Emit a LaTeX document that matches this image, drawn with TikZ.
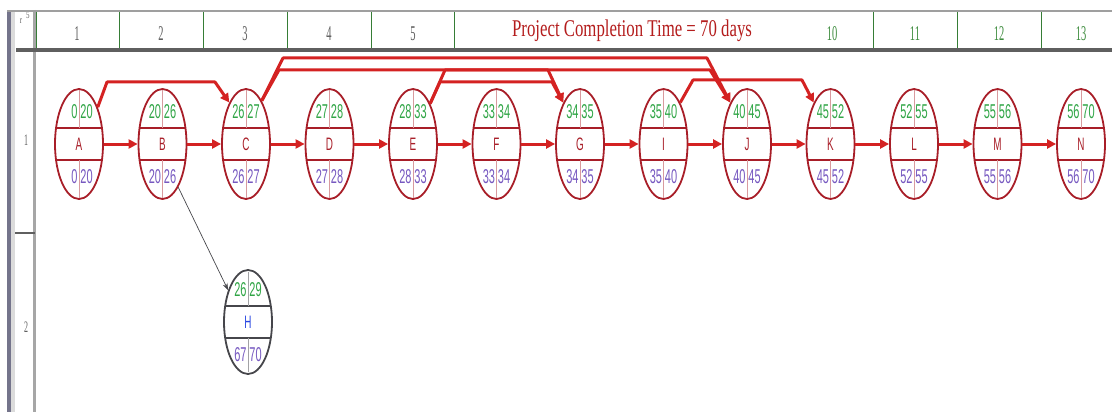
\documentclass[tikz,border=0pt]{standalone}
\usepackage{fontspec}
\setmainfont{Liberation Serif}
\newfontfamily\narrowsans[FakeStretch=0.55]{Liberation Sans}
\newfontfamily\narrowserif[FakeStretch=0.7]{Liberation Serif}
\newfontfamily\slimserif[FakeStretch=0.5]{Liberation Serif}
\usetikzlibrary{shapes.geometric, arrows.meta}

\definecolor{netred}{RGB}{212,34,34}
\definecolor{boxred}{RGB}{168,30,40}
\definecolor{esgreen}{RGB}{48,165,70}
\definecolor{lsviolet}{RGB}{118,88,192}
\definecolor{hgray}{RGB}{70,70,75}
\definecolor{hblue}{RGB}{40,70,225}
\definecolor{headgray}{RGB}{95,95,95}
\definecolor{colgreen}{RGB}{62,140,62}

\tikzset{
  actnode/.style={ellipse, draw=boxred, line width=1.8pt, minimum width=48pt,
    minimum height=110pt, inner sep=0pt, text=boxred,
    font=\narrowsans\fontsize{18}{18}\selectfont},
  esnum/.style={inner sep=1.2pt, text=esgreen, font=\narrowsans\fontsize{20}{20}\selectfont},
  lsnum/.style={inner sep=1.2pt, text=lsviolet, font=\narrowsans\fontsize{20}{20}\selectfont},
  bandline/.style={draw=boxred, line width=1.3pt},
  midline/.style={draw=boxred!45, line width=0.6pt},
  netarrow/.style={draw=netred, line width=3pt, line join=round,
    -{Triangle[length=9pt,width=9pt]}},
  thinarrow/.style={draw=hgray, line width=0.7pt, -{Stealth[length=7pt,width=5pt]}},
  colline/.style={draw=gray!60!green!70!black, line width=0.9pt},
  colnum/.style={font=\slimserif\fontsize{21}{21}\selectfont, inner sep=0pt},
}

\begin{document}
\begin{tikzpicture}[x=1pt, y=-1pt]
  \useasboundingbox (0,0) rectangle (1112,412);

  % left margin strips
  \fill[gray!55!blue!20!gray] (7,10) rectangle (11,412);
  \fill[gray!28] (11,10) rectangle (15,412);
  \draw[gray!70, line width=2.5pt] (34.5,10) -- (34.5,412);
  \draw[headgray, line width=1.5pt] (15,233) -- (35,233);
  \node[colnum, text=headgray, font=\slimserif\fontsize{16}{16}\selectfont] (row1) at (26,140) {1};
  \node[colnum, text=headgray, font=\slimserif\fontsize{16}{16}\selectfont] (row2) at (26,327) {2};
  \node[colnum, text=headgray, font=\narrowserif\fontsize{10}{10}\selectfont] (corner1) at (21,21) {r};
  \node[colnum, text=headgray, font=\narrowserif\fontsize{10}{10}\selectfont] (corner2) at (28,15) {5};

  % header strip
  \draw[gray!75, line width=2.5pt] (7,11) -- (1112,11);
  \draw[headgray, line width=4.5pt] (16,50) -- (1112,50);
  \foreach \xx in {36,119.75,203.5,287.25,371,454.75,873.5,957.25,1041}
    \draw[colline] (\xx,12) -- (\xx,48);
  \foreach \xx/\lab in {77/1,161/2,245/3,329/4,413/5} {
    \node[colnum, text=headgray] (col\lab) at (\xx,34) {\lab};
  }
  \foreach \xx/\lab in {832/10,915/11,999/12,1081/13} {
    \node[colnum, text=colgreen] (col\lab) at (\xx,34) {\lab};
  }
  \node[font=\narrowserif\fontsize{24}{24}\selectfont, text=netred!85!black, inner sep=0pt]
    (title) at (632,31) {Project Completion Time = 70 days};

  % activities on the critical chain
  \foreach \pos/\act/\es/\ef in {0/A/0/20, 1/B/20/26, 2/C/26/27, 3/D/27/28,
      4/E/28/33, 5/F/33/34, 6/G/34/35, 7/I/35/40, 8/J/40/45, 9/K/45/52,
      10/L/52/55, 11/M/55/56, 12/N/56/70} {
    \pgfmathsetmacro\cx{79+83.5*\pos}
    \node[actnode] (\act) at (\cx,144) {\act};
    \draw[bandline] (\cx-23,128) -- (\cx+23,128);
    \draw[bandline] (\cx-23,160) -- (\cx+23,160);
    \draw[midline] (\cx,90) -- (\cx,128);
    \draw[midline] (\cx,160) -- (\cx,198);
    \node[esnum, anchor=east] (\act-es) at (\cx,112) {\es};
    \node[esnum, anchor=west] (\act-ef) at (\cx,112) {\ef};
    \node[lsnum, anchor=east] (\act-ls) at (\cx,177) {\es};
    \node[lsnum, anchor=west] (\act-lf) at (\cx,177) {\ef};
  }

  % activity off the critical chain
  \node[actnode, draw=hgray, text=hblue, minimum height=104pt] (H) at (248,322) {H};
  \draw[bandline, draw=hgray] (225,306) -- (271,306);
  \draw[bandline, draw=hgray] (225,338) -- (271,338);
  \draw[midline, draw=hgray!50] (248,272) -- (248,306);
  \draw[midline, draw=hgray!50] (248,338) -- (248,372);
  \node[esnum, anchor=east] (H-es) at (248,290) {26};
  \node[esnum, anchor=west] (H-ef) at (248,290) {29};
  \node[lsnum, anchor=east] (H-ls) at (248,355) {67};
  \node[lsnum, anchor=west] (H-lf) at (248,355) {70};

  % straight links
  \foreach \from/\to in {A/B, B/C, C/D, D/E, E/F, F/G, G/I, I/J, J/K, K/L, L/M, M/N}
    \draw[netarrow] (\from) -- (\to);

  % routed links over the top
  \draw[netarrow] (A.63) -- (107,82) -- (215,82) -- (C.112);
  \draw[netarrow] (C.70) -- (283,58) -- (707,58) -- (J.112);
  \draw[netarrow] (C.70) -- (279,70) -- (548,70) -- (G.112);
  \draw[netarrow] (E.67) -- (445,70) -- (710,70) -- (J.112);
  \draw[netarrow] (E.67) -- (440,82) -- (552,82) -- (G.112);
  \draw[netarrow] (I.68) -- (693,80) -- (802,80) -- (K.112);

  % link to H
  \draw[thinarrow] (B.-70) -- (H.122);
\end{tikzpicture}
\end{document}
